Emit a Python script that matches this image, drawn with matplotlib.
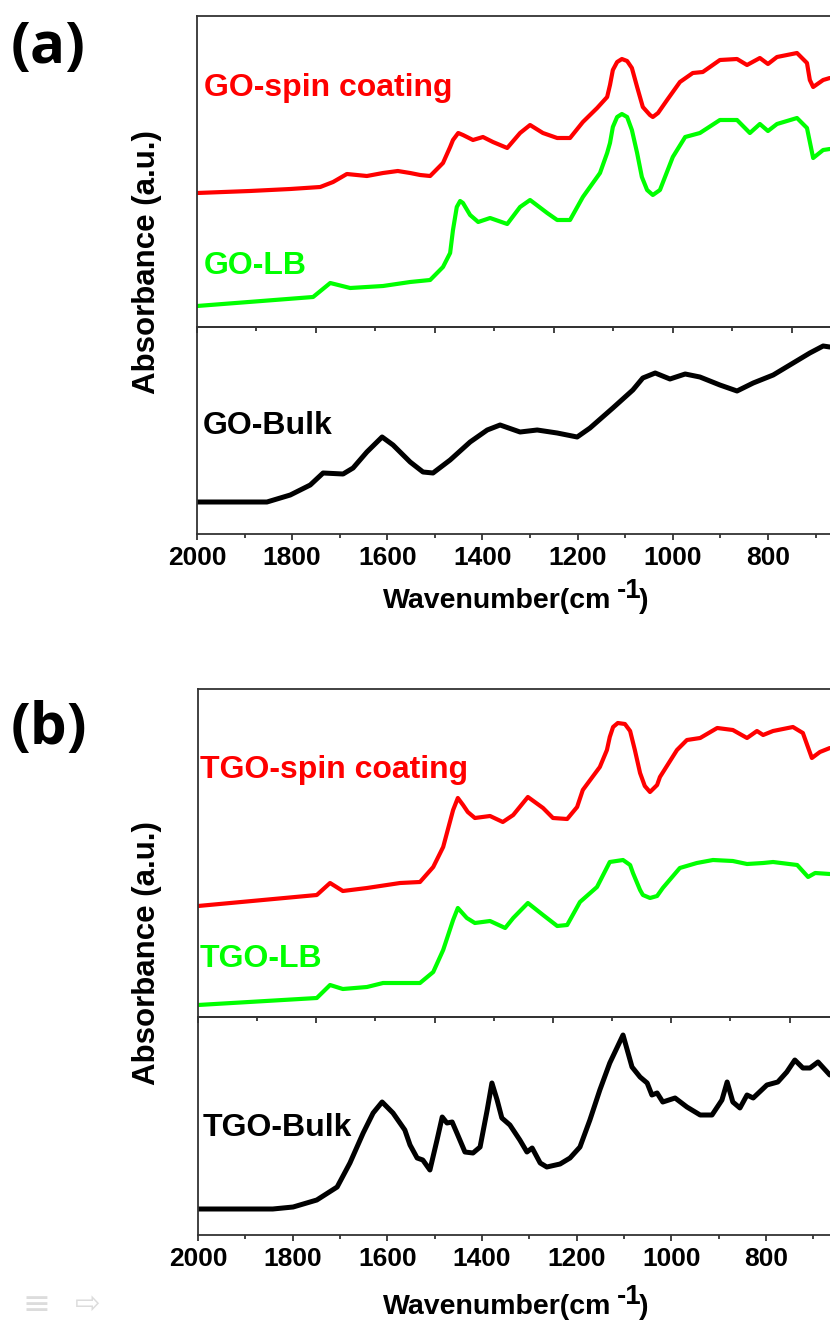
import matplotlib
matplotlib.use('Agg')
import matplotlib.pyplot as plt
from matplotlib.ticker import MultipleLocator, NullFormatter

# ---------------- data (absorbance in arbitrary units) ----------------
a_red_wn = [2000, 1889, 1804, 1741, 1714, 1685, 1643, 1609, 1578, 1552, 1531, 1510, 1483, 1468, 1462,
            1451, 1441, 1420, 1399, 1378, 1348, 1321, 1300, 1273, 1243, 1216, 1189, 1159, 1138, 1132,
            1126, 1117, 1107, 1096, 1086, 1075, 1063, 1048, 1042, 1031, 1012, 985, 958, 937, 901,
            865, 844, 817, 800, 781, 739, 718, 712, 705, 684, 670]
a_red_abs = [134, 136, 138, 140, 145, 153, 151, 154, 156, 154, 152, 151, 164, 180, 187,
             194, 192, 187, 190, 185, 179, 194, 202, 194, 189, 189, 205, 219, 230, 242,
             257, 265, 268, 266, 259, 240, 220, 212, 210, 214, 227, 245, 254, 255, 267,
             268, 262, 269, 263, 270, 274, 264, 247, 240, 247, 249]

a_green_wn = [2000, 1756, 1720, 1678, 1609, 1552, 1510, 1483, 1468, 1462, 1454, 1447, 1441, 1426,
              1409, 1384, 1348, 1321, 1300, 1264, 1243, 1216, 1189, 1153, 1138, 1132, 1126, 1117,
              1107, 1096, 1086, 1075, 1065, 1054, 1042, 1027, 1000, 974, 943, 901, 865, 838, 817,
              800, 781, 739, 718, 705, 684, 670]
a_green_abs = [21, 30, 44, 39, 41, 45, 47, 60, 74, 97, 120, 126, 124, 112,
               105, 109, 103, 120, 127, 114, 107, 107, 130, 154, 174, 184, 200, 210,
               213, 210, 197, 174, 150, 137, 132, 137, 170, 190, 194, 207, 207, 194, 203,
               196, 203, 209, 199, 169, 177, 178]

a_black_wn = [2000, 1924, 1853, 1804, 1762, 1735, 1693, 1672, 1643, 1611, 1588, 1552, 1525, 1504,
              1468, 1426, 1390, 1363, 1321, 1285, 1243, 1201, 1174, 1126, 1084, 1063, 1037, 1006,
              974, 943, 901, 865, 831, 789, 754, 712, 684, 670]
a_black_abs = [32, 32, 32, 39, 49, 61, 60, 66, 82, 97, 89, 72, 62, 61,
               74, 92, 104, 109, 102, 104, 101, 97, 106, 126, 144, 156, 161, 155,
               160, 157, 149, 143, 151, 159, 169, 181, 188, 187]

b_red_wn = [2000, 1749, 1721, 1694, 1643, 1573, 1531, 1503, 1482, 1461, 1451, 1440, 1430, 1415,
            1383, 1356, 1334, 1303, 1271, 1250, 1220, 1199, 1187, 1151, 1136, 1130, 1123, 1113,
            1098, 1087, 1077, 1066, 1056, 1045, 1030, 1024, 988, 967, 939, 903, 870, 840, 819,
            806, 785, 743, 722, 703, 686, 665]
b_red_abs = [111, 122, 134, 126, 129, 134, 135, 150, 170, 207, 219, 212, 205, 199,
             201, 195, 202, 220, 209, 199, 198, 210, 227, 250, 267, 280, 290, 294,
             293, 286, 267, 244, 231, 225, 232, 240, 267, 277, 279, 289, 287, 279, 286,
             282, 286, 290, 284, 259, 265, 269]

b_green_wn = [2000, 1749, 1721, 1694, 1643, 1609, 1531, 1503, 1482, 1461, 1451, 1432, 1415, 1383,
              1351, 1334, 1303, 1271, 1241, 1220, 1193, 1157, 1130, 1102, 1087, 1081, 1066, 1060,
              1045, 1030, 1018, 1009, 982, 946, 912, 870, 840, 806, 785, 734, 711, 696, 665]
b_green_abs = [12, 19, 32, 28, 30, 34, 34, 45, 67, 97, 109, 99, 94, 96,
               89, 99, 114, 102, 91, 92, 115, 130, 155, 157, 152, 144, 127, 122,
               119, 121, 129, 134, 149, 154, 157, 156, 153, 154, 155, 152, 140, 144, 143]

b_black_wn = [2000, 1842, 1799, 1749, 1706, 1679, 1651, 1630, 1611, 1588, 1563, 1552, 1537, 1525,
              1510, 1495, 1484, 1474, 1463, 1453, 1436, 1419, 1404, 1389, 1379, 1368, 1358, 1341,
              1320, 1305, 1294, 1277, 1263, 1235, 1214, 1193, 1172, 1151, 1130, 1102, 1083, 1066,
              1051, 1041, 1030, 1018, 992, 967, 939, 914, 893, 882, 870, 855, 840, 827, 798, 775,
              756, 739, 722, 707, 690, 665]
b_black_abs = [26, 26, 28, 35, 48, 72, 102, 122, 133, 122, 105, 90, 77, 75,
               65, 95, 118, 112, 113, 102, 83, 82, 88, 125, 152, 135, 117, 110,
               95, 83, 87, 72, 68, 71, 77, 88, 115, 145, 172, 200, 168, 158,
               152, 140, 142, 133, 137, 128, 120, 120, 135, 153, 133, 127, 140, 137, 150, 153,
               163, 175, 167, 167, 173, 160]

labels_a = ["GO-spin coating", "GO-LB", "GO-Bulk"]
labels_b = ["TGO-spin coating", "TGO-LB", "TGO-Bulk"]
xticks_major = [2000, 1800, 1600, 1400, 1200, 1000, 800]

# ---------------- figure ----------------
W, H = 830, 1323
fig = plt.figure(figsize=(W / 100, H / 100), dpi=100)
FONT = 'Liberation Sans'
RED, GREEN, BLACK = '#ff0000', '#00ff00', '#000000'
SPINE = '#333333'


def fx(x):
    return x / W


def fy(y):
    return 1 - y / H


def make_axes(left, top, bottom, scale, xmax=2000, xmin=600):
    right = left + (xmax - xmin) * scale
    ax = fig.add_axes([fx(left), fy(bottom), fx(right - left), (bottom - top) / H])
    ax.set_xlim(xmax, xmin)
    ax.patch.set_visible(False)
    for s in ax.spines.values():
        s.set_linewidth(1.3)
        s.set_color(SPINE)
    ax.spines['right'].set_visible(False)
    ax.set_yticks([])
    return ax


def style_top(ax):
    ax.xaxis.set_major_locator(MultipleLocator(250))
    ax.xaxis.set_minor_locator(MultipleLocator(125))
    ax.xaxis.set_major_formatter(NullFormatter())
    ax.tick_params(axis='x', which='major', direction='out', length=4.5, width=1.3,
                   color=SPINE, top=False)
    ax.tick_params(axis='x', which='minor', direction='out', length=3, width=1.3,
                   color=SPINE, top=False)


def style_bottom(ax):
    ax.set_xticks(xticks_major)
    ax.set_xticklabels([str(v) for v in xticks_major])
    ax.xaxis.set_minor_locator(MultipleLocator(100))
    ax.tick_params(axis='x', which='major', direction='out', length=4.5, width=1.3,
                   color=SPINE, pad=4, labelsize=19, top=False)
    ax.tick_params(axis='x', which='minor', direction='out', length=3, width=1.3,
                   color=SPINE, top=False)
    for lab in ax.get_xticklabels():
        lab.set_fontfamily(FONT)
        lab.set_fontweight('bold')


def ftext(x, y, s, **kw):
    kw.setdefault('fontfamily', FONT)
    kw.setdefault('fontweight', 'bold')
    fig.text(fx(x), fy(y), s, **kw)


def panel(left, top, mid, bottom, scale, red, green, black, labels, tag,
          tag_base, lab_bases, ylab_y, xlab_base):
    ax1 = make_axes(left, top, mid, scale)
    ax1.set_ylim(0, mid - top)
    ax1.plot(red[0], red[1], color=RED, lw=3.0, solid_joinstyle='round', solid_capstyle='round')
    ax1.plot(green[0], green[1], color=GREEN, lw=3.0, solid_joinstyle='round', solid_capstyle='round')
    style_top(ax1)
    ax1.set_zorder(2)

    ax2 = make_axes(left, mid, bottom, scale)
    ax2.set_ylim(0, bottom - mid)
    ax2.plot(black[0], black[1], color=BLACK, lw=3.6, solid_joinstyle='round', solid_capstyle='round')
    style_bottom(ax2)
    ax2.set_zorder(1)

    # curve labels
    ftext(lab_bases[0][0], lab_bases[0][1], labels[0], color=RED, fontsize=23, va='baseline')
    ftext(lab_bases[1][0], lab_bases[1][1], labels[1], color=GREEN, fontsize=23, va='baseline')
    ftext(lab_bases[2][0], lab_bases[2][1], labels[2], color=BLACK, fontsize=23, va='baseline')

    # panel tag
    fig.text(fx(11), fy(tag_base), tag, fontsize=42, fontweight='bold',
             fontfamily='Open Sans', va='baseline', ha='left')

    # y label
    ftext(147, ylab_y, 'Absorbance (a.u.)', fontsize=22.5, rotation=90,
          ha='center', va='center')

    # x label pieces
    ftext(383, xlab_base, 'Wavenumber(cm', fontsize=20.5, va='baseline', ha='left')
    ftext(617, xlab_base - 10, '-1', fontsize=20, va='baseline', ha='left')
    ftext(639, xlab_base, ')', fontsize=20.5, va='baseline', ha='left')


panel(197, 16, 327, 534, 0.4758,
      (a_red_wn, a_red_abs), (a_green_wn, a_green_abs), (a_black_wn, a_black_abs),
      labels_a, '(a)', 63,
      [(204, 96), (204, 274), (203, 434)], 262, 608)

panel(198, 689, 1017, 1235, 0.4733,
      (b_red_wn, b_red_abs), (b_green_wn, b_green_abs), (b_black_wn, b_black_abs),
      labels_b, '(b)', 744,
      [(200, 778), (200, 967), (203, 1136)], 953, 1314)

# faint page icons at the bottom left
fig.text(fx(22), fy(1314), '\u2261', fontsize=24, color='#dcdcdc', fontfamily='DejaVu Sans',
         va='baseline')
fig.text(fx(75), fy(1313), '\u21e8', fontsize=22, color='#dcdcdc', fontfamily='DejaVu Sans',
         va='baseline')

fig.savefig('out.png', dpi=100)
